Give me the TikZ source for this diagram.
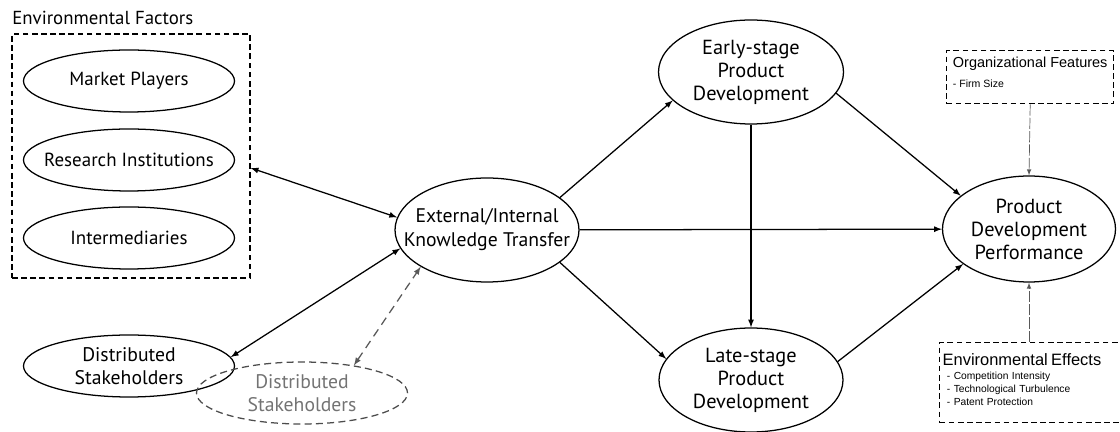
\documentclass[tikz,border=0pt]{standalone}
\usepackage{fontspec}
\setmainfont{PT Sans}
\newfontfamily\arialfont{Liberation Sans}
\usepackage{tikz}
\usetikzlibrary{shapes.geometric}

\tikzset{
  factor/.style={ellipse, draw, line width=0.9pt, minimum width=5.275cm, minimum height=1.55cm, inner xsep=-12pt, inner ysep=0pt, align=center, font=\fontsize{13.5}{16.3}\selectfont},
  stage/.style={ellipse, draw, line width=0.9pt, minimum width=4.6cm, minimum height=2.6cm, inner xsep=-15pt, inner ysep=0pt, align=center, font=\fontsize{14.5}{16.3}\selectfont},
  dashbox/.style={draw, line width=1pt, dash pattern=on 4pt off 2.5pt},
  link/.style={->, line width=0.9pt},
  effect/.style={->, gray!70!black, line width=0.5pt, dash pattern=on 8pt off 1.5pt},
}

\begin{document}
\begin{tikzpicture}[>=latex]
\useasboundingbox (0,0) rectangle (28,10.8);

% environmental factors
\node[anchor=west, inner sep=0pt, font=\fontsize{13.4}{15}\selectfont] (envtitle) at (0.3,10.35) {Environmental Factors};
\node[dashbox, minimum width=5.95cm, minimum height=6.1cm] (envbox) at (3.275,6.9) {};
\node[factor] (market) at (3.225,8.775) {Market Players};
\node[factor] (research) at (3.225,6.8) {Research Institutions};
\node[factor] (inter) at (3.225,4.85) {Intermediaries};

% stakeholders
\node[factor, font=\fontsize{14}{16.3}\selectfont] (stake) at (3.225,1.65) {Distributed\\Stakeholders};
\node[factor, font=\fontsize{14}{16.3}\selectfont, draw=black!70, text=black!55, dash pattern=on 5pt off 3pt] (stakeb) at (7.55,0.975) {Distributed\\Stakeholders};

% knowledge and development
\node[stage, font=\fontsize{14}{17}\selectfont] (kt) at (12.175,5.05) {External/Internal\\Knowledge Transfer};
\node[stage, minimum width=4.625cm] (early) at (18.775,9.0) {Early-stage\\Product\\Development};
\node[stage] (late) at (18.775,1.3) {Late-stage\\Product\\Development};
\node[stage, minimum width=4.325cm, minimum height=2.65cm] (perf) at (25.725,5.075) {Product\\Development\\Performance};

% moderators
\node[dashbox, anchor=north west, minimum width=4.175cm, minimum height=1.325cm, inner xsep=0pt, inner ysep=0pt, align=left, font=\arialfont\fontsize{7.5}{9}\selectfont] (org) at (23.65,9.55)
  {{\fontsize{10.3}{12}\selectfont Organizational Features}\\[5pt]- Firm Size\rule[-7pt]{0pt}{7pt}};
\node[dashbox, anchor=north west, minimum width=4.65cm, minimum height=2cm, inner xsep=1pt, inner ysep=0pt, text width=4.5cm, align=left, font=\arialfont\fontsize{7.3}{9.2}\selectfont] (envfx) at (23.475,2.25)
  {{\fontsize{11.7}{13}\selectfont Environmental Effects}\\[1pt]\hspace*{3pt}- Competition Intensity\\\hspace*{3pt}- Technological Turbulence\\\hspace*{3pt}- Patent Protection\rule[-5pt]{0pt}{5pt}};

% connectors
\draw[link, <->] ([yshift=-3mm]envbox.east) -- (kt.172);
\draw[link, <->] (stake.5) -- (kt.192);
\draw[<->, black!65, line width=0.9pt, dash pattern=on 6pt off 4pt] (stakeb.28) -- (kt.209);
\draw[link] (kt.24) -- (early.200);
\draw[link] (kt.336) -- (late.166);
\draw[link] (kt) -- (perf);
\draw[link] (early) -- (late);
\draw[link] (early.346) -- (perf.154);
\draw[link] (late.12) -- (perf.208);
\draw[effect] (org.south) -- (perf.north);
\draw[effect] (perf.south |- envfx.north) -- (perf.south);

\end{tikzpicture}
\end{document}
